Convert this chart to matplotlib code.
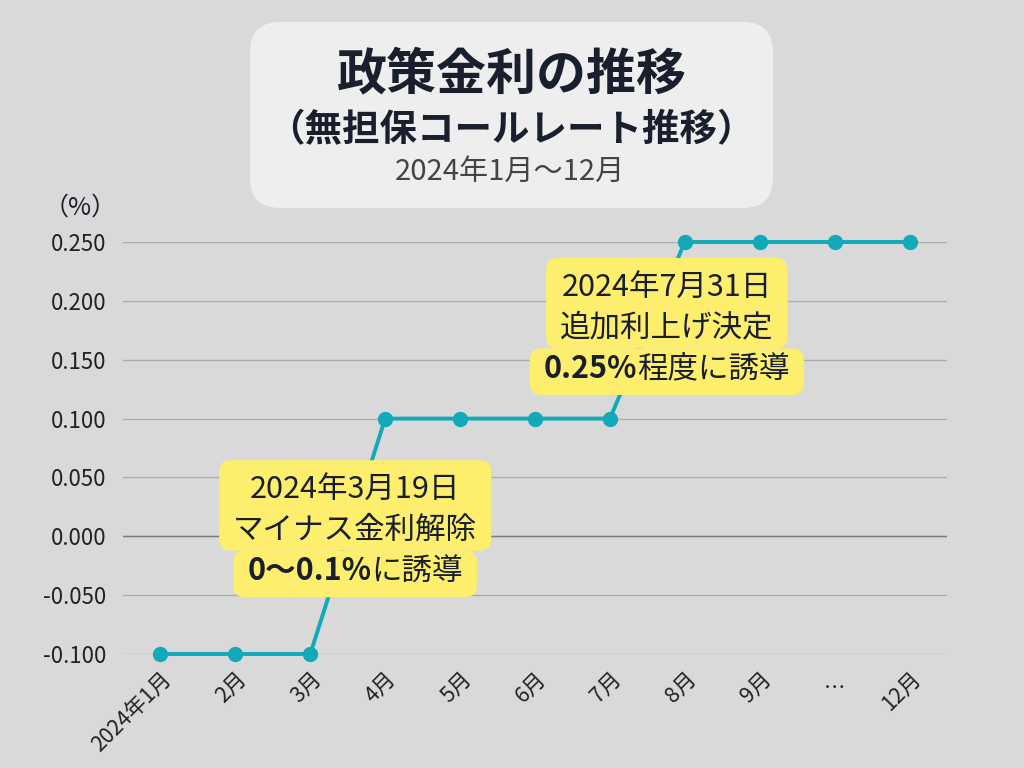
import matplotlib
matplotlib.use('Agg')
import matplotlib.pyplot as plt
from matplotlib.patches import FancyBboxPatch
from matplotlib.transforms import IdentityTransform

plt.rcParams['font.family'] = ['Noto Sans CJK JP', 'DejaVu Sans']

# ---- data ----
months = ['2024年1月', '2月', '3月', '4月', '5月', '6月', '7月', '8月', '9月', '…', '12月']
rates = [-0.1, -0.1, -0.1, 0.1, 0.1, 0.1, 0.1, 0.25, 0.25, 0.25, 0.25]
yticks = [-0.1, -0.05, 0.0, 0.05, 0.1, 0.15, 0.2, 0.25]
ytick_labels = ['-0.100', '-0.050', '0.000', '0.050', '0.100', '0.150', '0.200', '0.250']

title = '政策金利の推移'
subtitle = '（無担保コールレート推移）'
period = '2024年1月～12月'
unit_label = '（%）'

note1_lines = [[('2024年3月19日', 'normal')],
               [('マイナス金利解除', 'normal')],
               [('0～0.1%', 'bold'), ('に誘導', 'normal')]]
note2_lines = [[('2024年7月31日', 'normal')],
               [('追加利上げ決定', 'normal')],
               [('0.25%', 'bold'), ('程度に誘導', 'normal')]]

BG = '#d9d9d9'
NAVY = '#1a1f2e'
TEAL = '#12a9b9'
YELLOW = '#fdef6d'

fig = plt.figure(figsize=(10.24, 7.68), dpi=100, facecolor=BG)
ax = fig.add_axes([123 / 1024, 1 - 654 / 768, (947 - 123) / 1024, (654 - 242) / 768])
ax.set_facecolor(BG)

x = list(range(len(months)))
ax.plot(x, rates, color=TEAL, lw=2.8, marker='o', ms=10, clip_on=False, zorder=3)

ax.set_xlim(-0.5, len(months) - 0.5)
ax.set_ylim(-0.1, 0.25)
ax.set_yticks(yticks)
ax.set_yticklabels(ytick_labels, fontsize=16, color='#222222')
ax.set_xticks(x)
xlabels = [m if m != '…' else '' for m in months]
ax.set_xticklabels(xlabels, fontsize=15.5, color='#222222', rotation=45,
                   ha='right', va='top', rotation_mode='anchor')
for i, m in enumerate(months):
    if m == '…':
        ax.annotate(m, xy=(i, 0), xycoords=('data', 'axes fraction'),
                    xytext=(0, -25), textcoords='offset points',
                    ha='center', va='center', fontsize=15.5, color='#222222',
                    annotation_clip=False)
ax.tick_params(axis='y', length=0, pad=12)
ax.tick_params(axis='x', length=0, pad=10)
for s in ax.spines.values():
    s.set_visible(False)
ax.yaxis.grid(True, color='#acacac', lw=1)
ax.axhline(0, color='#7a7a7a', lw=1, zorder=1)
ax.set_axisbelow(True)

# ---- title box ----
tb = FancyBboxPatch((250, 768 - 208), 523, 186,
                    boxstyle='round,pad=0,rounding_size=30',
                    transform=IdentityTransform(), facecolor='#eeeeee',
                    edgecolor='none', zorder=4)
fig.add_artist(tb)
fig.text(512 / 1024, 1 - 75 / 768, title, fontsize=36, fontweight='bold',
         color=NAVY, ha='center', va='center', zorder=6)
fig.text(511 / 1024, 1 - 130 / 768, subtitle, fontsize=27, fontweight='bold',
         color=NAVY, ha='center', va='center', zorder=6)
fig.text(510 / 1024, 1 - 172 / 768, period, fontsize=21, color='#444444',
         ha='center', va='center', zorder=6)

fig.text(80 / 1024, 1 - 208 / 768, unit_label, fontsize=18, color=NAVY,
         ha='center', va='center')


def draw_note(ax, xc, y0, lines, groups, fs=22, dy=41, padx=14,
              padtop=29, padbot=26):
    fig = ax.figure
    r = fig.canvas.get_renderer()
    cx, cy = ax.transData.transform((xc, y0))
    spans = []
    for i, pieces in enumerate(lines):
        ly = cy - i * dy
        texts, widths = [], []
        for s, w in pieces:
            t = fig.text(0, 0, s, fontsize=fs, fontweight=w, color=NAVY,
                         transform=IdentityTransform(), ha='left',
                         va='center', zorder=6)
            widths.append(t.get_window_extent(r).width)
            texts.append(t)
        total = sum(widths)
        xx = cx - total / 2
        for t, w in zip(texts, widths):
            t.set_position((xx, ly))
            xx += w
        spans.append((cx - total / 2, cx + total / 2, ly))
    n = len(lines)
    for (i0, i1) in groups:
        left = min(spans[i][0] for i in range(i0, i1 + 1)) - padx
        right = max(spans[i][1] for i in range(i0, i1 + 1)) + padx
        top = spans[i0][2] + (padtop if i0 == 0 else dy / 2)
        bot = spans[i1][2] - (padbot if i1 == n - 1 else dy / 2)
        p = FancyBboxPatch((left, bot), right - left, top - bot,
                           boxstyle='round,pad=0,rounding_size=12',
                           transform=IdentityTransform(), facecolor=YELLOW,
                           edgecolor='none', zorder=5)
        fig.add_artist(p)


draw_note(ax, 2.6, 0.040, note1_lines, [(0, 1), (2, 2)])
draw_note(ax, 6.76, 0.2118, note2_lines, [(0, 1), (2, 2)])

fig.savefig('out.png', dpi=100, facecolor=BG)
